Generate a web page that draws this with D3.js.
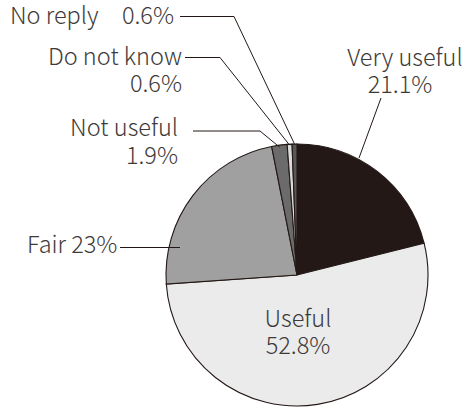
<!DOCTYPE html>
<html><head><meta charset="utf-8">
<script src="https://cdn.jsdelivr.net/npm/d3@7"></script>
<style>body{margin:0;background:#fff}</style>
</head><body>
<svg id="c" width="467" height="407"></svg>
<script>
const categories = ["Very useful","Useful","Fair","Not useful","Do not know","No reply"];
const values = [21.1, 52.8, 23, 1.9, 0.6, 0.6];
const valueLabels = ["21.1%","52.8%","23%","1.9%","0.6%","0.6%"];
const colors = ["#231815","#ebebeb","#a0a0a0","#6b6b6b","#dcdcdc","#595757"];

const svg = d3.select("#c");
const cx = 297, cy = 275, R = 131;
const textColor = "#3e3a39";
const font = "'Noto Sans CJK JP','Noto Sans',sans-serif";
const fs = 23.5;

const pie = d3.pie().sort(null).value(d => d)(values);
const arc = d3.arc().innerRadius(0).outerRadius(R);
const g = svg.append("g").attr("transform", `translate(${cx},${cy})`);
g.selectAll("path").data(pie).join("path")
  .attr("d", arc)
  .attr("fill", (d,i) => colors[i])
  .attr("stroke", "#231815")
  .attr("stroke-width", 1.1);

function pt(i, frac, r) {
  const a = pie[i].startAngle + (pie[i].endAngle - pie[i].startAngle) * frac;
  return [cx + r * Math.sin(a), cy - r * Math.cos(a)];
}

const lines = svg.append("g").attr("fill","none").attr("stroke","#231815").attr("stroke-width",1);
function leader(points){ lines.append("polyline").attr("points", points.map(p=>p.join(",")).join(" ")); }

const T = svg.append("g").attr("fill", textColor).attr("font-family", font).attr("font-size", fs).attr("font-weight", 300);
function txt(x,y,s,anchor){ T.append("text").attr("x",x).attr("y",y).attr("text-anchor",anchor||"start").text(s); }

// Very useful
txt(405, 66, categories[0], "middle");
txt(400, 93, valueLabels[0], "middle");
leader([[381, 98], [359, 158]]);

// Useful (inside)
txt(298, 327, categories[1], "middle");
txt(298, 354, valueLabels[1], "middle");

// Fair
txt(27, 253, categories[2] + " " + valueLabels[2], "start");
leader([[120, 247.5], [180, 247.5]]);

// Not useful
txt(178, 136, categories[3], "end");
txt(178, 164, valueLabels[3], "end");
leader([[193, 131], [260, 131], pt(3, 0.5, R - 2)]);

// Do not know
txt(182, 65, categories[4], "end");
txt(182, 92, valueLabels[4], "end");
leader([[185, 57.5], [220, 57.5], pt(4, 0.5, R - 1)]);

// No reply
txt(10, 24, categories[5], "start");
txt(174, 24, valueLabels[5], "end");
leader([[180, 16.5], [234, 16.5], pt(5, 0.5, R)]);
</script>
</body></html>
